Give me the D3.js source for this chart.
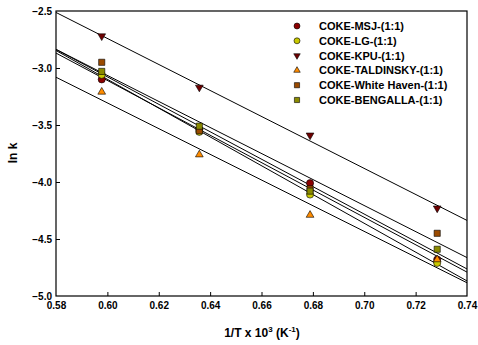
<!DOCTYPE html>
<html><head><meta charset="utf-8">
<script src="https://cdn.jsdelivr.net/npm/d3@7"></script>
<style>body{margin:0;background:#fff}svg{display:block}text{font-family:Arial,"Liberation Sans",sans-serif;font-weight:bold}</style>
</head><body>
<svg id="c" width="478" height="345"></svg>
<script>
const xValues = [0.5978, 0.6358, 0.6789, 0.7284];
const seriesNames = ["COKE-MSJ-(1:1)","COKE-LG-(1:1)","COKE-KPU-(1:1)","COKE-TALDINSKY-(1:1)","COKE-White Haven-(1:1)","COKE-BENGALLA-(1:1)"];
const msj = [-3.10, -3.54, -4.01, -4.68];
const lg = [-3.06, -3.56, -4.11, -4.71];
const kpu = [-2.72, -3.17, -3.59, -4.23];
const taldinsky = [-3.21, -3.76, -4.29, -4.68];
const whiteHaven = [-2.95, -3.55, -4.06, -4.45];
const bengalla = [-3.03, -3.51, -4.08, -4.59];
const xTicks = [0.58,0.60,0.62,0.64,0.66,0.68,0.70,0.72,0.74];
const yTicks = [-2.5,-3.0,-3.5,-4.0,-4.5,-5.0];

const colors = ["#8b0000","#c8c800","#6e0000","#ff8c00","#9a4a00","#8a8a00"];
const shapes = [d3.symbolCircle,d3.symbolCircle,"tdown",d3.symbolTriangle,d3.symbolSquare,d3.symbolSquare];
const series = [msj,lg,kpu,taldinsky,whiteHaven,bengalla];

const svg = d3.select("#c");
const L=56,R=467,T=11,B=296;
const x = d3.scaleLinear().domain([0.58,0.74]).range([L,R]);
const y = d3.scaleLinear().domain([-5,-2.5]).range([B,T]);

svg.append("rect").attr("x",L).attr("y",T).attr("width",R-L).attr("height",B-T).attr("fill","none").attr("stroke","#000").attr("stroke-width",1.2);

const xAxis = svg.append("g").attr("transform",`translate(0,${B})`)
  .call(d3.axisBottom(x).tickValues(xTicks).tickFormat(d3.format(".2f")).tickSizeInner(-4).tickSizeOuter(0).tickPadding(6));
const yAxis = svg.append("g").attr("transform",`translate(${L},0)`)
  .call(d3.axisLeft(y).tickValues(yTicks).tickFormat(d3.format(".1f")).tickSizeInner(-4).tickSizeOuter(0).tickPadding(4));
[xAxis,yAxis].forEach(g=>{g.select(".domain").remove();g.selectAll("text").attr("font-size",10).attr("font-family","Arial, Liberation Sans, sans-serif").attr("font-weight","bold").attr("fill","#000");g.selectAll("line").attr("stroke","#000");});
yAxis.selectAll(".tick").filter(d=>d===-2.5||d===-5.0).select("line").remove();
xAxis.selectAll(".tick").filter(d=>d===0.58||d===0.74).select("line").remove();

const clipId="clp";
svg.append("clipPath").attr("id",clipId).append("rect").attr("x",L).attr("y",T).attr("width",R-L).attr("height",B-T);
series.forEach(s=>{
  const mx=d3.mean(xValues), my=d3.mean(s);
  let sxy=0,sxx=0;
  xValues.forEach((xv,i)=>{sxy+=(xv-mx)*(s[i]-my);sxx+=(xv-mx)**2;});
  const b=sxy/sxx, a=my-b*mx;
  svg.append("line").attr("clip-path",`url(#${clipId})`)
    .attr("x1",x(0.58)).attr("y1",y(a+b*0.58)).attr("x2",x(0.74)).attr("y2",y(a+b*0.74))
    .attr("stroke","#000").attr("stroke-width",1);
});

function sym(shape, size){
  if(shape==="tdown") return d3.symbol(d3.symbolTriangle, size)();
  return d3.symbol(shape,size)();
}
function drawMarker(g, i, cx, cy, scale){
  const sizes=[40,40,26,26,38,38];
  g.append("path").attr("d",sym(shapes[i],sizes[i]*scale))
    .attr("fill",colors[i]).attr("stroke","#000").attr("stroke-width",0.6)
    .attr("transform",`translate(${cx},${cy})`+(shapes[i]==="tdown"?" rotate(180)":""));
}
series.forEach((s,i)=>{
  s.forEach((v,j)=>drawMarker(svg,i,x(xValues[j]),y(v),1));
});

const lg0 = svg.append("g");
seriesNames.forEach((n,i)=>{
  const yy=26+i*14.8;
  drawMarker(lg0,i,297,yy,0.7);
  lg0.append("text").attr("x",319).attr("y",yy+4).attr("font-size",11).text(n);
});

svg.append("text").attr("transform","translate(17,153) rotate(-90)").attr("text-anchor","middle").attr("font-size",12).text("ln k");
const xt = svg.append("text").attr("x",262).attr("y",337).attr("text-anchor","middle").attr("font-size",12);
xt.append("tspan").text("1/T x 10");
xt.append("tspan").attr("dy",-5).attr("font-size",8).text("3");
xt.append("tspan").attr("dy",5).text(" (K");
xt.append("tspan").attr("dy",-5).attr("font-size",8).text("-1");
xt.append("tspan").attr("dy",5).text(")");
</script>
</body></html>
